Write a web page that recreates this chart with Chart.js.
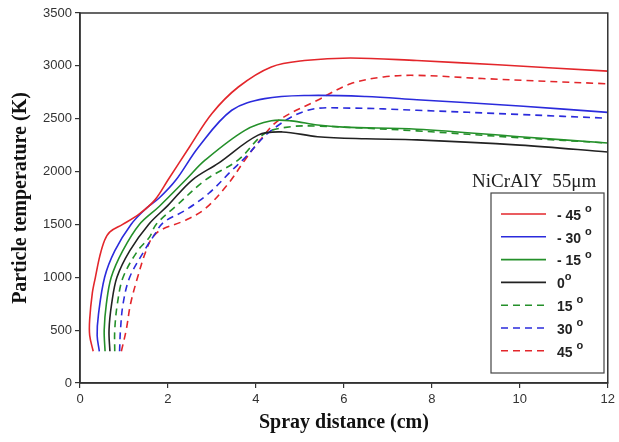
<!DOCTYPE html>
<html>
<head>
<meta charset="utf-8">
<script src="https://cdn.jsdelivr.net/npm/chart.js@4/dist/chart.umd.min.js"></script>
<style>
  body { margin: 0; background: #fff; }
  #wrap { width: 619px; height: 442px; }
</style>
</head>
<body>
<div id="wrap"><canvas id="tempChart"></canvas></div>
<script>
// spray distance (cm) / particle temperature (K)
const m45X = [0.3, 0.22, 0.22, 0.28, 0.35, 0.45, 0.56, 0.68, 0.97, 1.35, 1.7, 2.0, 2.5, 3.0, 3.6, 4.35, 5.1, 6.15, 7.66, 9.5, 12];
const m45Y = [300, 450, 600, 850, 1000, 1200, 1350, 1430, 1500, 1600, 1730, 1920, 2240, 2550, 2800, 2990, 3050, 3075, 3050, 3010, 2950];
const m30X = [0.44, 0.39, 0.42, 0.56, 0.79, 1.16, 1.5, 1.8, 2.18, 2.7, 3.45, 4.2, 5.2, 6.5, 7.66, 10, 12];
const m30Y = [300, 450, 650, 1000, 1250, 1500, 1650, 1750, 1920, 2235, 2580, 2690, 2720, 2710, 2680, 2620, 2560];
const m15X = [0.57, 0.55, 0.6, 0.71, 0.97, 1.35, 1.8, 2.4, 2.85, 3.75, 4.35, 4.8, 5.4, 6, 7.66, 10, 12];
const m15Y = [300, 500, 750, 1000, 1250, 1500, 1670, 1920, 2110, 2390, 2480, 2480, 2440, 2420, 2400, 2330, 2270];
const z0X = [0.68, 0.66, 0.72, 0.84, 1.13, 1.56, 2.0, 2.55, 3.15, 4.05, 4.6, 5.4, 6.5, 7.66, 10, 12];
const z0Y = [300, 500, 750, 1000, 1250, 1500, 1680, 1920, 2080, 2345, 2375, 2330, 2310, 2300, 2250, 2185];
const p15X = [0.79, 0.79, 0.85, 0.98, 1.31, 1.58, 1.73, 2.2, 2.85, 3.6, 4.2, 4.8, 5.4, 6.5, 7.66, 10, 12];
const p15Y = [300, 500, 750, 1000, 1250, 1380, 1500, 1680, 1920, 2110, 2360, 2425, 2430, 2410, 2385, 2320, 2270];
const p30X = [0.9, 0.92, 0.98, 1.13, 1.46, 1.69, 1.9, 2.4, 2.93, 3.45, 3.75, 4.35, 5.18, 6.15, 7.66, 10, 12];
const p30Y = [300, 500, 750, 1000, 1250, 1400, 1520, 1635, 1795, 2010, 2130, 2390, 2580, 2600, 2580, 2540, 2505];
const p45X = [0.94, 1.05, 1.15, 1.31, 1.5, 1.65, 1.85, 2.4, 2.85, 3.38, 3.75, 4.1, 4.5, 5.4, 6.15, 6.9, 7.66, 9.15, 12];
const p45Y = [300, 500, 750, 1000, 1250, 1380, 1450, 1540, 1650, 1890, 2110, 2300, 2480, 2675, 2830, 2895, 2910, 2880, 2830];

const seriesLabels = ['- 45', '- 30', '- 15', '0', '15', '30', '45'];
const xTicks = [0, 2, 4, 6, 8, 10, 12];
const yTicks = [0, 500, 1000, 1500, 2000, 2500, 3000, 3500];

const RED = '#e3262b', BLUE = '#2b2bdc', GREEN = '#24902a', BLACK = '#222222';
const DASH = [7, 5];

function pts(xs, ys) {
  return xs.map((x, i) => ({ x: x, y: ys[i] }));
}

const seriesDefs = [
  [m45X, m45Y, RED, []],
  [m30X, m30Y, BLUE, []],
  [m15X, m15Y, GREEN, []],
  [z0X, z0Y, BLACK, []],
  [p15X, p15Y, GREEN, DASH],
  [p30X, p30Y, BLUE, DASH],
  [p45X, p45Y, RED, DASH]
];

const datasets = seriesDefs.map((s, i) => ({
  label: seriesLabels[i],
  data: pts(s[0], s[1]),
  borderColor: s[2],
  borderDash: s[3],
  borderWidth: 1.6,
  pointRadius: 0,
  showLine: true,
  fill: false,
  tension: 0.35
}));

// frame + legend box drawn on the canvas
const framePlugin = {
  id: 'frame',
  afterDraw(chart) {
    const ctx = chart.ctx;
    const a = chart.chartArea;
    ctx.save();
    ctx.strokeStyle = '#333';
    ctx.lineWidth = 1.5;
    ctx.strokeRect(a.left, a.top, a.right - a.left, a.bottom - a.top);

    // material label
    ctx.fillStyle = '#222';
    ctx.font = '19px "Liberation Serif", "Times New Roman", serif';
    ctx.textBaseline = 'middle';
    ctx.textAlign = 'left';
    ctx.fillText('NiCrAlY  55\u03bcm', 472, 182);

    // legend box
    ctx.lineWidth = 1.2;
    ctx.strokeStyle = '#444';
    ctx.strokeRect(491, 193, 113, 180);
    chart.data.datasets.forEach((ds, i) => {
      const y = 214 + i * 22.8;
      ctx.beginPath();
      ctx.strokeStyle = ds.borderColor;
      ctx.lineWidth = 1.6;
      ctx.setLineDash(ds.borderDash);
      ctx.moveTo(501, y);
      ctx.lineTo(546, y);
      ctx.stroke();
      ctx.setLineDash([]);
      ctx.fillStyle = '#222';
      ctx.font = 'bold 14px "Liberation Sans", Arial, sans-serif';
      const txt = ds.label + (ds.label === '0' ? '' : ' ');
      ctx.fillText(txt, 557, y + 2);
      const w = ctx.measureText(txt).width;
      ctx.font = 'bold 11px "Liberation Sans", Arial, sans-serif';
      ctx.fillText('o', 557 + w, y - 5);
    });
    ctx.restore();
  }
};

new Chart(document.getElementById('tempChart'), {
  type: 'scatter',
  data: { datasets: datasets },
  plugins: [framePlugin],
  options: {
    responsive: true,
    maintainAspectRatio: false,
    animation: false,
    layout: { padding: { top: 13, right: 6, left: 0, bottom: 0 } },
    plugins: {
      legend: { display: false },
      tooltip: { enabled: false }
    },
    scales: {
      x: {
        type: 'linear',
        min: 0,
        max: 12,
        afterBuildTicks: s => { s.ticks = xTicks.map(v => ({ value: v })); },
        afterFit: s => { s.height = 59; },
        grid: { drawOnChartArea: false, drawTicks: true, tickLength: 5, color: '#333', lineWidth: 1.2 },
        border: { color: '#333', width: 1.5 },
        ticks: { color: '#333', font: { family: '"Liberation Sans", Arial, sans-serif', size: 13 }, padding: 4, maxRotation: 0, callback: v => String(v) },
        title: {
          display: true,
          text: 'Spray distance (cm)',
          color: '#111',
          font: { family: '"Liberation Serif", "Times New Roman", serif', size: 20, weight: 'bold' },
          padding: { top: 0, bottom: 7 }
        }
      },
      y: {
        type: 'linear',
        min: 0,
        max: 3500,
        afterBuildTicks: s => { s.ticks = yTicks.map(v => ({ value: v })); },
        afterFit: s => { s.width = 80; },
        grid: { drawOnChartArea: false, drawTicks: true, tickLength: 5, color: '#333', lineWidth: 1.2 },
        border: { color: '#333', width: 1.5 },
        ticks: { color: '#333', font: { family: '"Liberation Sans", Arial, sans-serif', size: 13 }, padding: 3, callback: v => String(v) },
        title: {
          display: true,
          text: 'Particle temperature (K)',
          color: '#111',
          font: { family: '"Liberation Serif", "Times New Roman", serif', size: 20, weight: 'bold' },
          padding: { top: 9, bottom: 0 }
        }
      }
    }
  }
});
</script>
</body>
</html>
